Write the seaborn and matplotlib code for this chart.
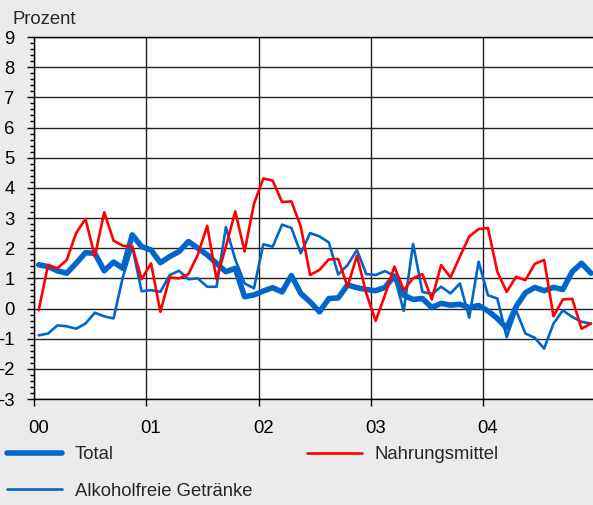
import matplotlib
matplotlib.use("Agg")
import matplotlib.pyplot as plt
import numpy as np
import pandas as pd
import seaborn as sns
from matplotlib.ticker import FixedLocator, MultipleLocator, NullFormatter

# Data (monthly, Jan 2000 - Dec 2004), change in percent
years = ['00', '01', '02', '03', '04']
total = [1.45, 1.39, 1.25, 1.17, 1.50, 1.85, 1.83, 1.25, 1.54, 1.33, 2.44, 2.05,
         1.94, 1.52, 1.72, 1.89, 2.22, 2.00, 1.78, 1.50, 1.22, 1.33, 0.39, 0.45,
         0.58, 0.69, 0.55, 1.09, 0.50, 0.22, -0.11, 0.33, 0.35, 0.78, 0.69, 0.63,
         0.59, 0.70, 1.08, 0.44, 0.30, 0.33, 0.03, 0.17, 0.11, 0.14, 0.03, 0.10,
         -0.08, -0.33, -0.65, 0.06, 0.52, 0.70, 0.59, 0.70, 0.63, 1.22, 1.50, 1.17]
nahrung = [-0.06, 1.44, 1.33, 1.61, 2.50, 2.97, 1.72, 3.19, 2.25, 2.08, 2.05, 0.97,
           1.50, -0.11, 1.03, 1.00, 1.14, 1.78, 2.74, 0.97, 2.05, 3.22, 1.89, 3.47,
           4.31, 4.24, 3.53, 3.55, 2.72, 1.11, 1.28, 1.63, 1.64, 0.72, 1.75, 0.50,
           -0.41, 0.45, 1.39, 0.61, 1.00, 1.14, 0.30, 1.44, 1.03, 1.72, 2.39, 2.63,
           2.67, 1.22, 0.55, 1.05, 0.94, 1.48, 1.61, -0.26, 0.30, 0.32, -0.67, -0.50]
getraenke = [-0.89, -0.83, -0.56, -0.59, -0.67, -0.50, -0.14, -0.26, -0.33, 1.05, 2.05, 0.57,
             0.61, 0.55, 1.11, 1.25, 0.97, 1.00, 0.72, 0.72, 2.70, 1.63, 0.83, 0.67,
             2.13, 2.05, 2.78, 2.67, 1.83, 2.50, 2.39, 2.19, 1.13, 1.44, 1.94, 1.14,
             1.11, 1.24, 1.08, -0.08, 2.14, 0.55, 0.48, 0.72, 0.50, 0.83, -0.30, 1.55,
             0.44, 0.33, -0.95, -0.06, -0.83, -0.97, -1.33, -0.50, -0.06, -0.28, -0.44, -0.50]

# months placed at mid-month
month = np.arange(len(total)) + 0.5

sns.set_theme(style="white")
plt.rcParams['font.family'] = ['Liberation Sans', 'DejaVu Sans']
plt.rcParams['axes.unicode_minus'] = False

bg = '#EBEBEB'
blue = '#0066CC'
red = '#FF0000'
fs = 13.3

fig = plt.figure(figsize=(5.93, 5.05), dpi=100, facecolor=bg)
ax = fig.add_axes([34/593, 1 - 399/505, 561.6/593, 362/505])
ax.set_facecolor('white')

sns.lineplot(x=month, y=total, ax=ax, color=blue, linewidth=4.0, label='Total')
sns.lineplot(x=month, y=getraenke, ax=ax, color=blue, linewidth=1.9, label='Alkoholfreie Getränke')
sns.lineplot(x=month, y=nahrung, ax=ax, color=red, linewidth=1.9, label='Nahrungsmittel')

ax.set_xlim(0, 60)
ax.set_ylim(-3, 9)

# y axis
ax.yaxis.set_major_locator(MultipleLocator(1))
ax.yaxis.set_minor_locator(MultipleLocator(0.2))
ax.tick_params(axis='y', which='major', direction='out', length=5, width=1,
               color='black', pad=9, labelsize=fs, labelcolor='black', left=True)
ax.tick_params(axis='y', which='minor', direction='out', length=3, width=1,
               color='black', left=True)

# x axis: ticks at year boundaries, labels at mid-January
ax.xaxis.set_major_locator(FixedLocator([0, 12, 24, 36, 48]))
ax.xaxis.set_major_formatter(NullFormatter())
ax.xaxis.set_minor_locator(FixedLocator([0.5, 12.5, 24.5, 36.5, 48.5]))
ax.set_xticklabels(years, minor=True)
ax.tick_params(axis='x', which='major', direction='out', length=5, width=1,
               color='black', bottom=True)
ax.tick_params(axis='x', which='minor', length=0, pad=15, labelsize=fs,
               labelcolor='black', bottom=True)

ax.grid(True, which='major', axis='both', color='#222222', linewidth=1.0)
ax.set_axisbelow(True)
for side in ['left', 'bottom', 'top']:
    ax.spines[side].set_color('black')
    ax.spines[side].set_linewidth(1.0)
ax.spines['right'].set_visible(False)
ax.set_xlabel('')
ax.set_ylabel('')

fig.text(12/593, 1 - 19/505, 'Prozent', fontsize=fs, va='center', ha='left')

handles, labels = ax.get_legend_handles_labels()
ax.legend_.remove()
fig.legend(handles, labels, loc='center left', bbox_to_anchor=(7/593, 1 - 473/505),
           ncol=2, frameon=False, fontsize=fs, handlelength=2.97, handletextpad=0.7,
           columnspacing=2.97, labelspacing=1.05, borderpad=0, borderaxespad=0)

fig.savefig('out.png', dpi=100, facecolor=bg)
